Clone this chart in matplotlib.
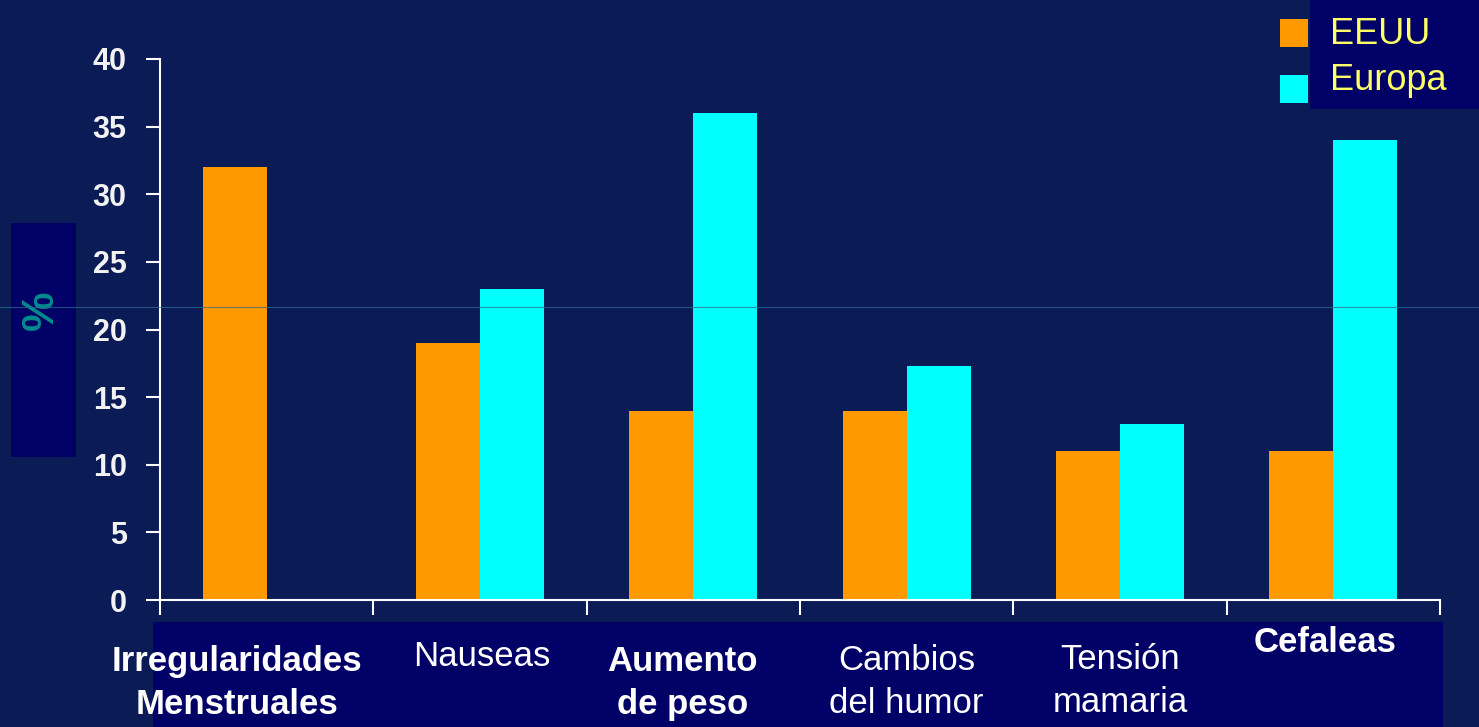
import matplotlib
matplotlib.use("Agg")
import matplotlib.pyplot as plt
import matplotlib.transforms as mtransforms
from matplotlib.patches import Rectangle
from matplotlib.lines import Line2D
import numpy as np

# ---- data ----
categories = ["Irregularidades\nMenstruales", "Nauseas", "Aumento\nde peso",
              "Cambios\ndel humor", "Tensión\nmamaria", "Cefaleas"]
label_bold = [True, False, True, False, False, True]
series_names = ["EEUU", "Europa"]
eeuu = [32, 19, 14, 14, 11, 11]
europa = [0, 23, 36, 17.3, 13, 34]
y_ticks = [0, 5, 10, 15, 20, 25, 30, 35, 40]

# ---- style ----
BG = "#0A1B55"
BOX = "#000066"
ORANGE = "#FF9900"
CYAN = "#00FFFF"
YELLOW = "#FFFF66"
TEAL = "#008B8B"
FONT = "Liberation Sans"

W, H = 1479, 727
fig = plt.figure(figsize=(W / 100, H / 100), dpi=100, facecolor=BG)

def fx(px):
    return px / W

def fy(py):
    return 1 - py / H

# boxes behind everything
fig.add_artist(Rectangle((fx(11), fy(457)), fx(76) - fx(11), fy(223) - fy(457),
                         transform=fig.transFigure, facecolor=BOX, edgecolor="none", zorder=0))
fig.add_artist(Rectangle((fx(153), fy(727)), fx(1443) - fx(153), fy(622) - fy(727),
                         transform=fig.transFigure, facecolor=BOX, edgecolor="none", zorder=0))

ax = fig.add_axes([fx(160), fy(600), fx(1440) - fx(160), fy(59) - fy(600)])
ax.set_facecolor("none")
x = np.arange(len(categories))
bw = 0.3
ax.bar(x - bw / 2, eeuu, width=bw, color=ORANGE, zorder=2)
ax.bar(x + bw / 2, europa, width=bw, color=CYAN, zorder=2)

ax.set_xlim(-0.5, len(categories) - 0.5)
ax.set_ylim(0, 40)
ax.set_yticks(y_ticks)
ax.set_yticklabels([str(v) for v in y_ticks], fontfamily=FONT, fontweight="bold",
                   fontsize=22, color="#F2F2F2")
ax.set_xticks(np.arange(len(categories) + 1) - 0.5)
ax.set_xticklabels([])
ax.tick_params(axis="y", direction="out", length=10, width=1.5, color="white", pad=14)
ax.tick_params(axis="x", direction="out", length=11, width=1.5, color="white")
for s in ["top", "right"]:
    ax.spines[s].set_visible(False)
for s in ["left", "bottom"]:
    ax.spines[s].set_color("white")
    ax.spines[s].set_linewidth(1.5)

# category labels
label_dx = [-0.14, 0.01, -0.05, 0.0, 0.0, -0.04]
label_y_px = [683, 657, 683, 682, 681, 643]
blend = mtransforms.blended_transform_factory(ax.transData, fig.transFigure)
for i, (lab, b) in enumerate(zip(categories, label_bold)):
    ax.text(x[i] + label_dx[i], fy(label_y_px[i]), lab, transform=blend,
            ha="center", va="center", multialignment="center",
            fontfamily=FONT, fontweight="bold" if b else "normal", fontsize=25,
            color="white", linespacing=1.38, zorder=5, clip_on=False)

# y label
fig.text(fx(41), fy(310), "%", rotation=90, ha="center", va="center",
         fontfamily=FONT, fontweight="bold", fontsize=32, color=TEAL)

# legend
fig.add_artist(Rectangle((fx(1310), fy(109)), fx(1479) - fx(1310), fy(0) - fy(109),
                         transform=fig.transFigure, facecolor=BOX, edgecolor="none", zorder=0))
for (c, yc) in [(ORANGE, 33), (CYAN, 89)]:
    fig.add_artist(Rectangle((fx(1280), fy(yc + 14)), fx(28), fy(yc - 14) - fy(yc + 14),
                             transform=fig.transFigure, facecolor=c, edgecolor="none", zorder=3))
fig.text(fx(1330), fy(34), series_names[0], ha="left", va="center",
         fontfamily=FONT, fontsize=26, color=YELLOW)
fig.text(fx(1330), fy(80), series_names[1], ha="left", va="center",
         fontfamily=FONT, fontsize=26, color=YELLOW)

# thin horizontal line across the figure
fig.add_artist(Line2D([0, 1], [fy(307), fy(307)], transform=fig.transFigure,
                      color="#2A6E92", lw=0.8, alpha=0.7, zorder=10))

fig.savefig("out.png", dpi=100, facecolor=BG)
